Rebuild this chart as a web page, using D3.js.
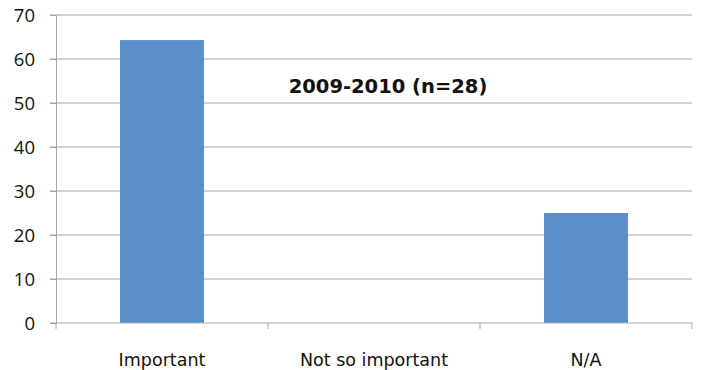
<!DOCTYPE html>
<html>
<head>
<meta charset="utf-8">
<script src="https://cdn.jsdelivr.net/npm/d3@7"></script>
<style>
  body { margin: 0; background: #fff; }
  svg { display: block; }
  text { font-family: "DejaVu Sans", sans-serif; fill: #111; }
</style>
</head>
<body>
<div id="chart"></div>
<script>
var categories = ['Important', 'Not so important', 'N/A'];
var values = [64.3, 0, 25];
var yTicks = [0, 10, 20, 30, 40, 50, 60, 70];
var title = '2009-2010 (n=28)';

var margin = {top: 15, right: 15, bottom: 47, left: 56};
var width = 707 - margin.left - margin.right,
    height = 370 - margin.top - margin.bottom;

var svg = d3.select('#chart').append('svg')
    .attr('width', 707)
    .attr('height', 370);

var g = svg.append('g')
    .attr('transform', 'translate(' + margin.left + ',' + margin.top + ')');

var xScale = d3.scaleBand()
    .domain(categories)
    .range([0, width])
    .paddingInner(0.604)
    .paddingOuter(0.302);

var xBand = d3.scaleBand()
    .domain(categories)
    .range([0, width]);

var yScale = d3.scaleLinear()
    .domain([0, 70])
    .range([height, 0]);

// gridlines
g.append('g').selectAll('line').data(yTicks.slice(1))
  .enter().append('line')
    .attr('x1', -6).attr('x2', width)
    .attr('y1', function(d) { return yScale(d); })
    .attr('y2', function(d) { return yScale(d); })
    .style('stroke', '#a6a6a6')
    .style('stroke-width', 1);

// bars
g.selectAll('rect').data(values)
  .enter().append('rect')
    .attr('x', function(d, i) { return xScale(categories[i]); })
    .attr('width', xScale.bandwidth())
    .attr('y', function(d) { return yScale(d); })
    .attr('height', function(d) { return height - yScale(d); })
    .style('fill', '#5b8fc9');

// y axis
var vAxis = d3.axisLeft(yScale).tickValues(yTicks).tickSize(6).tickPadding(15);
var vGuide = g.append('g').call(vAxis);
vGuide.select('.domain').style('stroke', '#a6a6a6');
vGuide.selectAll('line').style('stroke', '#a6a6a6');
vGuide.selectAll('text')
    .style('font-family', '"Open Sans", sans-serif')
    .style('font-size', '18.5px')
    .style('fill', '#111')
    .attr('dy', '0.35em');

// x axis
var hGuide = g.append('g').attr('transform', 'translate(0,' + height + ')');
hGuide.append('line')
    .attr('x1', -6).attr('x2', width)
    .style('stroke', '#a6a6a6');
hGuide.selectAll('.tick').data(categories.concat(['end']))
  .enter().append('line')
    .attr('class', 'tick')
    .attr('x1', function(d, i) { return i * xBand.bandwidth(); })
    .attr('x2', function(d, i) { return i * xBand.bandwidth(); })
    .attr('y1', 0).attr('y2', 6)
    .style('stroke', '#a6a6a6');
hGuide.selectAll('text').data(categories)
  .enter().append('text')
    .attr('x', function(d) { return xBand(d) + xBand.bandwidth() / 2; })
    .attr('y', 43)
    .attr('text-anchor', 'middle')
    .style('font-size', '17.5px')
    .text(function(d) { return d; });

// title
svg.append('text')
    .attr('x', 388)
    .attr('y', 93)
    .attr('text-anchor', 'middle')
    .style('font-size', '19.5px')
    .style('font-weight', 'bold')
    .text(title);
</script>
</body>
</html>
